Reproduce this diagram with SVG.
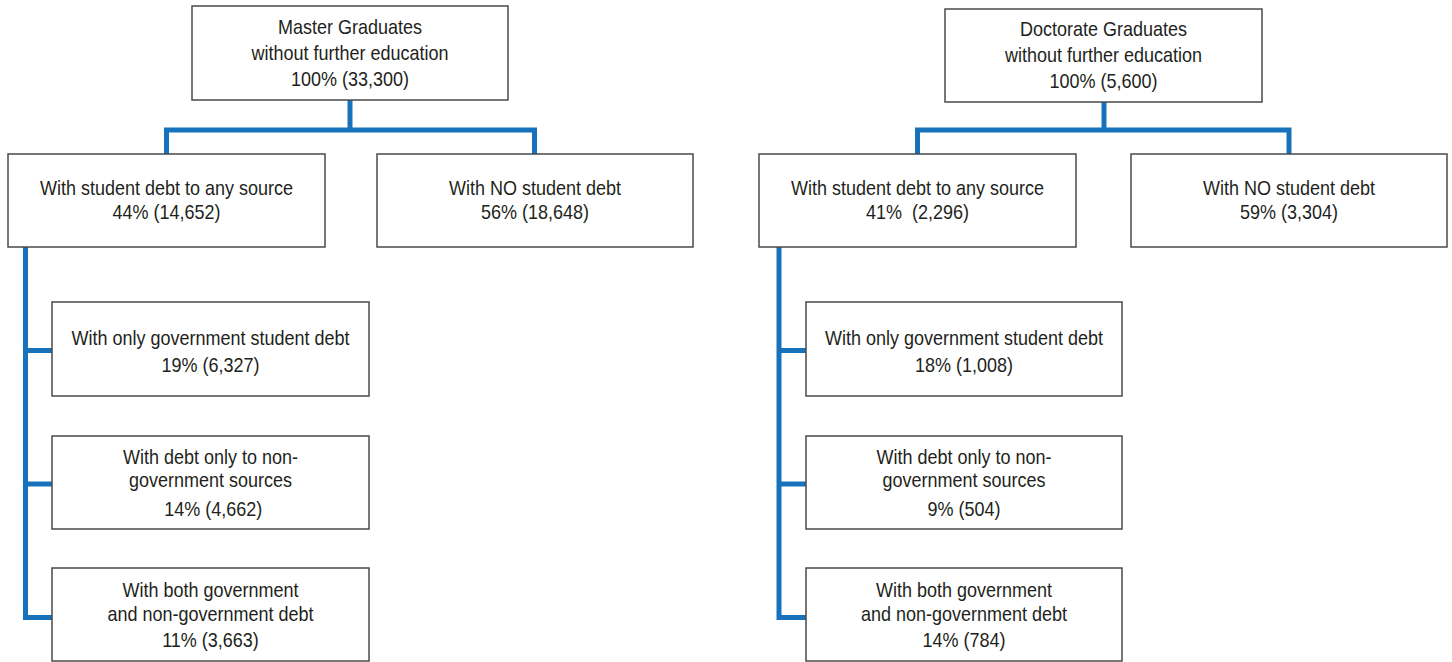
<svg xmlns="http://www.w3.org/2000/svg" width="1452" height="662" viewBox="0 0 1452 662">
<style>
.box{fill:#ffffff;stroke:#4a4a4a;stroke-width:1.5}
.conn{fill:none;stroke:#1872bb;stroke-width:5;stroke-linejoin:miter;stroke-linecap:butt}
text{font-family:"Liberation Sans",Arial,sans-serif;font-size:20px;fill:#231f20;text-anchor:middle}
.pre{white-space:pre}
</style>
<rect width="1452" height="662" fill="#ffffff"/>
<g id="connectors">
<path class="conn" d="M350,100 V130 M166.5,154 V130 H534.5 V154"/>
<path class="conn" d="M25.5,247 V619.5 M23,350.5 H52 M23,484 H52 M23,617.5 H52"/>
<path class="conn" d="M1104,102 V130 M917.5,154 V130 H1289 V154"/>
<path class="conn" d="M779,247 V619.5 M776.5,350.5 H806 M776.5,484 H806 M776.5,617.5 H806"/>
</g>
<g id="master">
<rect class="box" x="192" y="6" width="316" height="94"/>
<g transform="translate(350 0) scale(0.9 1)">
<text x="0" y="34">Master Graduates</text>
<text x="0" y="60">without further education</text>
<text x="0" y="86">100% (33,300)</text>
</g>
</g>
<g id="master-debt">
<rect class="box" x="8" y="154" width="317" height="93"/>
<g transform="translate(166.5 0) scale(0.9 1)">
<text x="0" y="195">With student debt to any source</text>
<text x="0" y="219">44% (14,652)</text>
</g>
</g>
<g id="master-nodebt">
<rect class="box" x="377" y="154" width="316" height="93"/>
<g transform="translate(535 0) scale(0.9 1)">
<text x="0" y="195">With NO student debt</text>
<text x="0" y="219">56% (18,648)</text>
</g>
</g>
<g id="master-gov">
<rect class="box" x="52" y="302" width="317" height="94"/>
<g transform="translate(210.5 0) scale(0.9 1)">
<text x="0" y="345">With only government student debt</text>
<text x="0" y="372">19% (6,327)</text>
</g>
</g>
<g id="master-nongov">
<rect class="box" x="52" y="436" width="317" height="93"/>
<g transform="translate(210.5 0) scale(0.9 1)">
<text x="0" y="464">With debt only to non-</text>
<text x="0" y="487">government sources</text>
<text x="3" y="516">14% (4,662)</text>
</g>
</g>
<g id="master-both">
<rect class="box" x="52" y="568" width="317" height="93"/>
<g transform="translate(210.5 0) scale(0.9 1)">
<text x="0" y="597">With both government</text>
<text x="0" y="621">and non-government debt</text>
<text x="0" y="647">11% (3,663)</text>
</g>
</g>
<g id="doctorate">
<rect class="box" x="945" y="9" width="317" height="93"/>
<g transform="translate(1103.5 0) scale(0.9 1)">
<text x="0" y="36">Doctorate Graduates</text>
<text x="0" y="62">without further education</text>
<text x="0" y="88">100% (5,600)</text>
</g>
</g>
<g id="doctorate-debt">
<rect class="box" x="759" y="154" width="317" height="93"/>
<g transform="translate(917.5 0) scale(0.9 1)">
<text x="0" y="195">With student debt to any source</text>
<text class="pre" x="0" y="219">41%  (2,296)</text>
</g>
</g>
<g id="doctorate-nodebt">
<rect class="box" x="1131" y="154" width="316" height="93"/>
<g transform="translate(1289 0) scale(0.9 1)">
<text x="0" y="195">With NO student debt</text>
<text x="0" y="219">59% (3,304)</text>
</g>
</g>
<g id="doctorate-gov">
<rect class="box" x="806" y="302" width="316" height="94"/>
<g transform="translate(964 0) scale(0.9 1)">
<text x="0" y="345">With only government student debt</text>
<text x="0" y="372">18% (1,008)</text>
</g>
</g>
<g id="doctorate-nongov">
<rect class="box" x="806" y="436" width="316" height="93"/>
<g transform="translate(964 0) scale(0.9 1)">
<text x="0" y="464">With debt only to non-</text>
<text x="0" y="487">government sources</text>
<text x="0" y="516">9% (504)</text>
</g>
</g>
<g id="doctorate-both">
<rect class="box" x="806" y="568" width="316" height="93"/>
<g transform="translate(964 0) scale(0.9 1)">
<text x="0" y="597">With both government</text>
<text x="0" y="621">and non-government debt</text>
<text x="0" y="647">14% (784)</text>
</g>
</g>
</svg>
